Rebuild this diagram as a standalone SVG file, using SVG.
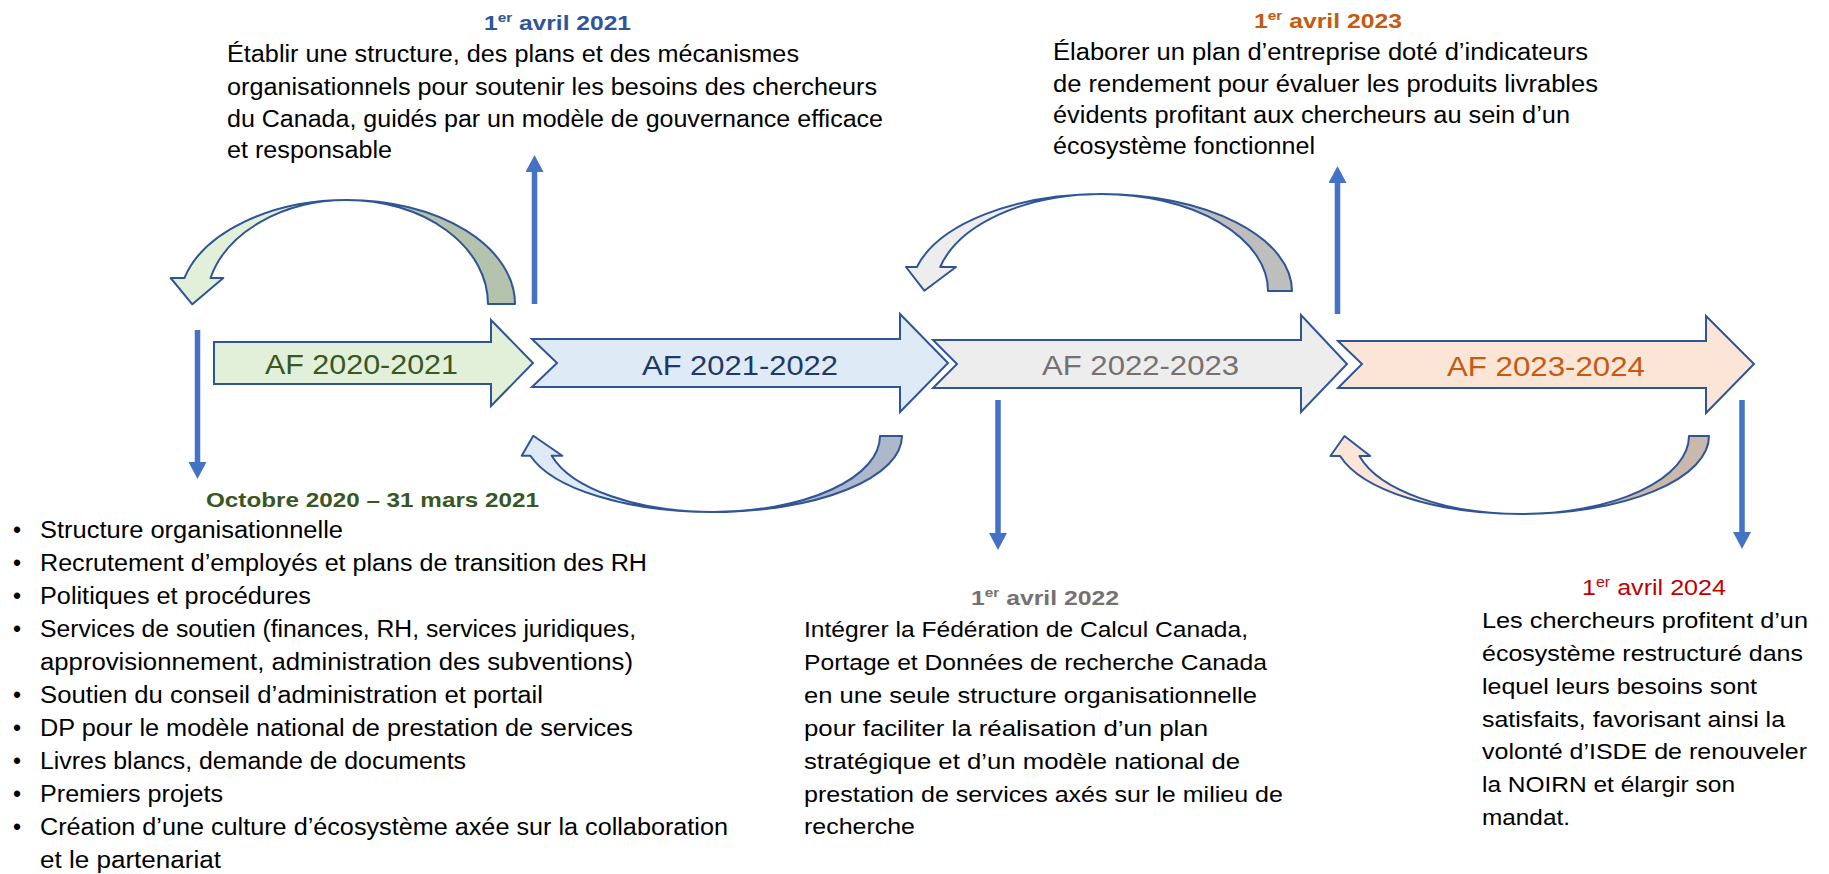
<svg xmlns="http://www.w3.org/2000/svg" width="1829" height="874" viewBox="0 0 1829 874">
<style>
text { font-family: "Liberation Sans", Arial, sans-serif; }
.blk { stroke: #2F5597; stroke-width: 2; stroke-linejoin: miter; }
.crv { stroke: #2F5597; stroke-width: 2; stroke-linejoin: round; }
.af { font-size: 28px; }
.b1 { font-size: 23px; fill: #000; }
.b2 { font-size: 22px; fill: #000; }
.ttl { font-size: 21px; font-weight: bold; }
.v { stroke: #4472C4; stroke-width: 5.5; fill: none; marker-end: url(#ah); }
</style>
<defs>
<marker id="ah" markerUnits="userSpaceOnUse" markerWidth="17" markerHeight="18" viewBox="0 0 17 18" refX="0" refY="9" orient="auto">
<path d="M0,0 L17,9 L0,18 Z" fill="#4472C4"/>
</marker>
</defs>
<rect width="1829" height="874" fill="#ffffff"/>

<g id="connectors">
  <g id="curve-2020" class="crv">
    <path d="M515,304 A168,104 0 0 0 347,200 A141,104 0 0 1 488,304 Z" fill="#B4C3AD"/>
    <path d="M184.4,278 A168,104 0 0 1 347,200 A141,104 0 0 0 210.5,278 L223.3,278 L192.3,304.3 L170.7,278 Z" fill="#E2F0D9"/>
  </g>
  <g id="curve-2022" class="crv">
    <path d="M1292,291 A190.5,97 0 0 0 1101.5,194 A166.5,97 0 0 1 1268,291 Z" fill="#BEBEBE"/>
    <path d="M916.9,267 A190.5,97 0 0 1 1101.5,194 A166.5,97 0 0 0 940.2,267 L956,267 L924.3,290.7 L906,267 Z" fill="#EDEDED"/>
  </g>
  <g id="curve-2021" class="crv">
    <path d="M902,436 A189,76 0 0 1 713,512 A167,76 0 0 0 880,436 Z" fill="#ADB9CA"/>
    <path d="M530.4,455.7 A189,76 0 0 0 713,512 A167,76 0 0 1 551.7,455.7 L562.3,455.7 L533.3,435.7 L521.7,455.7 Z" fill="#DEEBF7"/>
  </g>
  <g id="curve-2023" class="crv">
    <path d="M1709,436 A187.6,78 0 0 1 1521.4,514 A167.6,78 0 0 0 1689,436 Z" fill="#C9B8AB"/>
    <path d="M1340.1,456 A187.6,78 0 0 0 1521.4,514 A167.6,78 0 0 1 1359.4,456 L1370.2,456 L1344.5,436 L1330.4,456 Z" fill="#FBE5D6"/>
  </g>
  <line class="v" x1="197.5" y1="330" x2="197.5" y2="462"/>
  <line class="v" x1="534.5" y1="304" x2="534.5" y2="172"/>
  <line class="v" x1="998" y1="400" x2="998" y2="533"/>
  <line class="v" x1="1337.5" y1="314" x2="1337.5" y2="183"/>
  <line class="v" x1="1742" y1="400" x2="1742" y2="532"/>
</g>

<g id="af-2020-2021">
  <polygon class="blk" fill="#E2F0D9" points="214,342 491,342 491,320 533,363 491,406 491,384 214,384"/>
  <text class="af" x="265" y="374" fill="#385723" textLength="193" lengthAdjust="spacingAndGlyphs">AF 2020-2021</text>
</g>
<g id="af-2021-2022">
  <polygon class="blk" fill="#DEEBF7" points="532,339 900,339 900,314 948,363 900,412 900,387 532,387 557,363"/>
  <text class="af" x="642" y="375" fill="#1F3864" textLength="196" lengthAdjust="spacingAndGlyphs">AF 2021-2022</text>
</g>
<g id="af-2022-2023">
  <polygon class="blk" fill="#EDEDED" points="933,340 1301,340 1301,315 1347,364 1301,412 1301,388 933,388 957,364"/>
  <text class="af" x="1042" y="375" fill="#767171" textLength="197" lengthAdjust="spacingAndGlyphs">AF 2022-2023</text>
</g>
<g id="af-2023-2024">
  <polygon class="blk" fill="#FBE5D6" points="1338,341 1706,341 1706,316 1754,364 1706,413 1706,388 1338,388 1362,364"/>
  <text class="af" x="1447" y="376" fill="#C55A11" textLength="198" lengthAdjust="spacingAndGlyphs">AF 2023-2024</text>
</g>

<g id="note-2021">
  <text class="ttl" x="484" y="30" fill="#2F5597" textLength="147" lengthAdjust="spacingAndGlyphs">1<tspan font-size="13" dy="-8">er</tspan><tspan dy="8"> avril 2021</tspan></text>
  <text class="b1" x="227" y="62" textLength="572" lengthAdjust="spacingAndGlyphs">Établir une structure, des plans et des mécanismes</text>
  <text class="b1" x="227" y="94.5" textLength="650" lengthAdjust="spacingAndGlyphs">organisationnels pour soutenir les besoins des chercheurs</text>
  <text class="b1" x="227" y="126.5" textLength="656" lengthAdjust="spacingAndGlyphs">du Canada, guidés par un modèle de gouvernance efficace</text>
  <text class="b1" x="227" y="158" textLength="165" lengthAdjust="spacingAndGlyphs">et responsable</text>
</g>

<g id="note-2023">
  <text class="ttl" x="1254" y="28" fill="#C55A11" textLength="148" lengthAdjust="spacingAndGlyphs">1<tspan font-size="13" dy="-8">er</tspan><tspan dy="8"> avril 2023</tspan></text>
  <text class="b1" x="1053" y="60" textLength="535" lengthAdjust="spacingAndGlyphs">Élaborer un plan d’entreprise doté d’indicateurs</text>
  <text class="b1" x="1053" y="91.5" textLength="545" lengthAdjust="spacingAndGlyphs">de rendement pour évaluer les produits livrables</text>
  <text class="b1" x="1053" y="123" textLength="517" lengthAdjust="spacingAndGlyphs">évidents profitant aux chercheurs au sein d’un</text>
  <text class="b1" x="1053" y="154" textLength="262" lengthAdjust="spacingAndGlyphs">écosystème fonctionnel</text>
</g>

<g id="note-2020">
  <text class="ttl" x="206" y="507" font-size="22" fill="#385723" textLength="333" lengthAdjust="spacingAndGlyphs">Octobre 2020 – 31 mars 2021</text>
  <g class="b1" text-anchor="middle">
    <text x="17" y="538">•</text>
    <text x="17" y="571">•</text>
    <text x="17" y="604">•</text>
    <text x="17" y="637">•</text>
    <text x="17" y="703">•</text>
    <text x="17" y="736">•</text>
    <text x="17" y="769">•</text>
    <text x="17" y="802">•</text>
    <text x="17" y="835">•</text>
  </g>
  <text class="b1" x="40" y="538" textLength="303" lengthAdjust="spacingAndGlyphs">Structure organisationnelle</text>
  <text class="b1" x="40" y="571" textLength="607" lengthAdjust="spacingAndGlyphs">Recrutement d’employés et plans de transition des RH</text>
  <text class="b1" x="40" y="604" textLength="271" lengthAdjust="spacingAndGlyphs">Politiques et procédures</text>
  <text class="b1" x="40" y="637" textLength="596" lengthAdjust="spacingAndGlyphs">Services de soutien (finances, RH, services juridiques,</text>
  <text class="b1" x="40" y="670" textLength="593" lengthAdjust="spacingAndGlyphs">approvisionnement, administration des subventions)</text>
  <text class="b1" x="40" y="703" textLength="503" lengthAdjust="spacingAndGlyphs">Soutien du conseil d’administration et portail</text>
  <text class="b1" x="40" y="736" textLength="593" lengthAdjust="spacingAndGlyphs">DP pour le modèle national de prestation de services</text>
  <text class="b1" x="40" y="769" textLength="426" lengthAdjust="spacingAndGlyphs">Livres blancs, demande de documents</text>
  <text class="b1" x="40" y="802" textLength="183" lengthAdjust="spacingAndGlyphs">Premiers projets</text>
  <text class="b1" x="40" y="835" textLength="688" lengthAdjust="spacingAndGlyphs">Création d’une culture d’écosystème axée sur la collaboration</text>
  <text class="b1" x="40" y="868" textLength="181" lengthAdjust="spacingAndGlyphs">et le partenariat</text>
</g>

<g id="note-2022">
  <text class="ttl" x="971" y="605" fill="#767171" textLength="148" lengthAdjust="spacingAndGlyphs">1<tspan font-size="13" dy="-8">er</tspan><tspan dy="8"> avril 2022</tspan></text>
  <text class="b2" x="804" y="637" textLength="444" lengthAdjust="spacingAndGlyphs">Intégrer la Fédération de Calcul Canada,</text>
  <text class="b2" x="804" y="669.5" textLength="463" lengthAdjust="spacingAndGlyphs">Portage et Données de recherche Canada</text>
  <text class="b2" x="804" y="703" textLength="453" lengthAdjust="spacingAndGlyphs">en une seule structure organisationnelle</text>
  <text class="b2" x="804" y="736" textLength="404" lengthAdjust="spacingAndGlyphs">pour faciliter la réalisation d’un plan</text>
  <text class="b2" x="804" y="769" textLength="436" lengthAdjust="spacingAndGlyphs">stratégique et d’un modèle national de</text>
  <text class="b2" x="804" y="802" textLength="479" lengthAdjust="spacingAndGlyphs">prestation de services axés sur le milieu de</text>
  <text class="b2" x="804" y="834" textLength="111" lengthAdjust="spacingAndGlyphs">recherche</text>
</g>

<g id="note-2024">
  <text x="1582" y="595" font-size="22" fill="#C00000" textLength="144" lengthAdjust="spacingAndGlyphs">1<tspan font-size="14" dy="-8">er</tspan><tspan dy="8"> avril 2024</tspan></text>
  <text class="b2" x="1482" y="628" textLength="326" lengthAdjust="spacingAndGlyphs">Les chercheurs profitent d’un</text>
  <text class="b2" x="1482" y="660.5" textLength="321" lengthAdjust="spacingAndGlyphs">écosystème restructuré dans</text>
  <text class="b2" x="1482" y="694" textLength="275" lengthAdjust="spacingAndGlyphs">lequel leurs besoins sont</text>
  <text class="b2" x="1482" y="727" textLength="303" lengthAdjust="spacingAndGlyphs">satisfaits, favorisant ainsi la</text>
  <text class="b2" x="1482" y="759" textLength="325" lengthAdjust="spacingAndGlyphs">volonté d’ISDE de renouveler</text>
  <text class="b2" x="1482" y="792" textLength="253" lengthAdjust="spacingAndGlyphs">la NOIRN et élargir son</text>
  <text class="b2" x="1482" y="825" textLength="88" lengthAdjust="spacingAndGlyphs">mandat.</text>
</g>
</svg>
